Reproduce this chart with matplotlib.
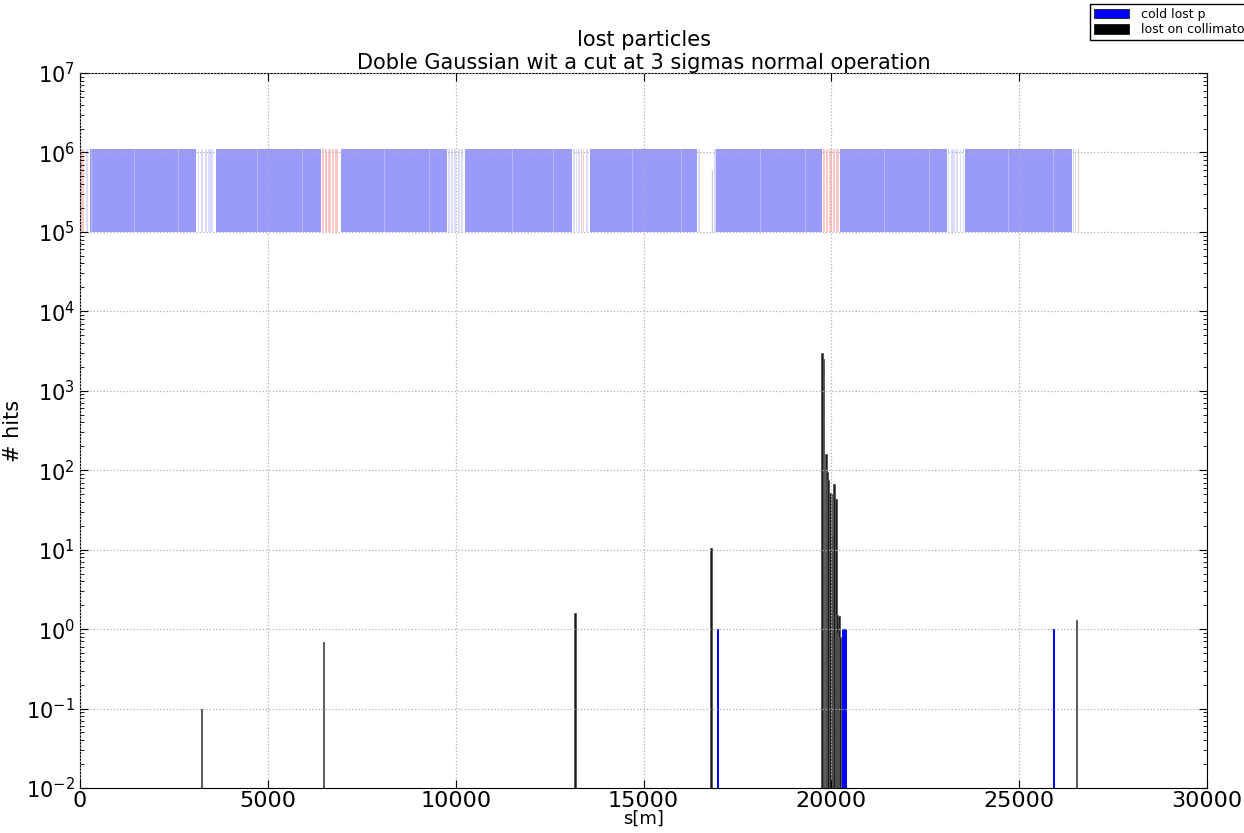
import matplotlib
matplotlib.use('Agg')
import matplotlib.pyplot as plt
from matplotlib.patches import Patch

# magnet layout (s start, s end) in metres, drawn between 1e5 and ~1.1e6
arc_start = [266, 3620, 6940, 10250, 13576, 16930, 20231, 23559]
arc_end = [3088, 6407, 9770, 13097, 16425, 19752, 23080, 26407]
# light blue elements in the straight sections
ss_s = [3140, 3230, 3330, 3420, 3500, 9800, 9880, 9960, 10060, 10150,
        13120, 13190, 13260, 13470, 16440, 16880, 23100, 23180, 23250,
        23330, 23420, 23500, 26430, 26480, 150]
ss_w = [40, 50, 40, 60, 50, 40, 50, 40, 50, 40,
        50, 40, 40, 60, 60, 40, 40, 50, 40,
        50, 40, 40, 40, 40, 60]
# red elements
red_s = [0, 6430, 6520, 6600, 6700, 6800, 13330, 13400,
         19770, 19860, 19950, 20040, 20120, 26560]
red_w = [100, 60, 50, 70, 60, 80, 25, 25,
         70, 60, 70, 60, 80, 40]
# thin lighter gaps inside the arcs
gap_s = [290, 1450, 2600, 4700, 5900, 8100, 9300, 11500, 12600,
         14700, 16000, 18100, 19300, 21400, 22600, 24700, 25900]

# losses on collimators
coll_s = [3230, 6488, 13177, 16797, 19752, 19790, 19858, 19885, 19911,
          19940, 19965, 20018, 20045, 20071, 20100, 20125, 20151, 20178,
          20204, 20231, 26514]
coll_hits = [0.1, 0.68, 1.6, 10.5, 3000, 2500, 160, 95, 75,
             30, 52, 15, 50, 68, 25, 44, 1.5, 0.9,
             1.45, 0.8, 1.3]
# cold lost protons
cold_s = [16984, 20310, 20375, 25928]
cold_hits = [1, 1, 1, 1]

fig = plt.figure(figsize=(12.44, 8.33), dpi=100)
ax = fig.add_axes([0.0643, 0.054, 0.906, 0.8584])
ax.set_yscale('log')

top = 1.09e6
bot = 1e5
ax.bar(arc_start, [top - bot] * len(arc_start),
       width=[e - s for s, e in zip(arc_start, arc_end)], bottom=bot,
       align='edge', color='#9a9afb', linewidth=0)
ax.bar(gap_s, [top - bot] * len(gap_s), width=25, bottom=bot,
       align='edge', color='#b8b8fd', linewidth=0)
ax.bar(ss_s, [top - bot] * len(ss_s), width=ss_w, bottom=bot,
       align='edge', color='#dcdcff', linewidth=0)
ax.bar(red_s, [top - bot] * len(red_s), width=red_w, bottom=bot,
       align='edge', color='#ffc8c8', linewidth=0)
ax.vlines([16815], 1e5, 6e5, color='#cccccc', lw=1)

ax.bar(coll_s, [h - 1e-2 for h in coll_hits], width=30, bottom=1e-2,
       color='#1a1a1a', edgecolor='#555555', linewidth=0.6)
ax.bar(cold_s, [h - 1e-2 for h in cold_hits], width=65, bottom=1e-2,
       color='blue', linewidth=0)

ax.set_xlim(0, 30000)
ax.set_ylim(1e-2, 1e7)
ax.set_axisbelow(False)
ax.grid(True, which='major', linestyle=':', color='#b0b0b0', lw=0.9)
ax.tick_params(which='both', direction='in', top=True, right=True)
ax.tick_params(which='major', length=6)
ax.tick_params(axis='x', labelsize=16, pad=2)
ax.tick_params(axis='y', labelsize=15)
ax.tick_params(which='minor', length=3)
ax.set_xlabel('s[m]', fontsize=13, labelpad=-1)
ax.set_ylabel('# hits', fontsize=15, labelpad=2)
ax.set_title('lost particles\nDoble Gaussian wit a cut at 3 sigmas normal operation',
             fontsize=15, pad=3)

handles = [Patch(facecolor='blue', edgecolor='black', lw=0.5, label='cold lost p'),
           Patch(facecolor='black', edgecolor='black', lw=0.5, label='lost on collimators')]
fig.legend(handles=handles, loc='upper left', bbox_to_anchor=(1090 / 1244, 1 - 4 / 833),
           fontsize=9, fancybox=False, edgecolor='black', framealpha=1,
           borderaxespad=0, handlelength=2.8, handleheight=0.8, borderpad=0.3,
           labelspacing=0.2, handletextpad=1.0)

fig.savefig('out.png', dpi=100)
